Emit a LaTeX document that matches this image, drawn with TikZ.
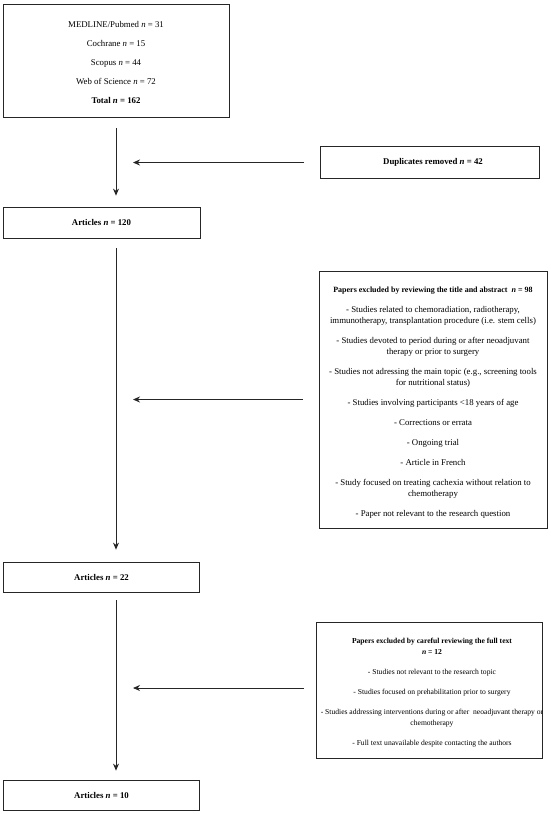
\documentclass[tikz,border=0pt]{standalone}
\usepackage{fontspec}
\setmainfont{Liberation Serif}
\usetikzlibrary{arrows.meta}
\begin{document}
\begin{tikzpicture}[x=1pt,y=-1pt,
  box/.style={draw=black!85, line width=0.8pt, inner sep=0pt},
  txt/.style={font=\fontsize{8.8}{11}\selectfont, align=center, inner sep=0pt},
  smalltxt/.style={font=\fontsize{7.6}{11}\selectfont, align=center, inner sep=0pt},
  boldtxt/.style={font=\fontsize{8.8}{11}\selectfont\bfseries, align=center, inner sep=0pt},
  arr/.style={draw=black!85, line width=0.8pt, -{Stealth[length=7pt,width=6pt]}}]
\useasboundingbox (0,0) rectangle (550,814);
\coordinate (spine) at (116,0);
% boxes
\node[box, minimum width=226pt, minimum height=113pt] (src) at (116,60.5) {};
\node[box, minimum width=197pt, minimum height=31pt] (a120) at (101.5,222.5) {};
\node[box, minimum width=196pt, minimum height=30pt] (a22) at (101.5,577) {};
\node[box, minimum width=196pt, minimum height=30pt] (a10) at (101.5,795) {};
\node[box, minimum width=219pt, minimum height=32pt] (dup) at (430,162.5) {};
\node[box, minimum width=228pt, minimum height=257pt] (ex1) at (433,399.5) {};
\node[box, minimum width=226pt, minimum height=136pt] (ex2) at (429,690) {};
% texts
\node[txt] (srct) at ([yshift=-2pt]src.center) {MEDLINE/Pubmed \textit{n} = 31\\[8pt]
Cochrane \textit{n} = 15\\[8pt]
Scopus \textit{n} = 44\\[8pt]
Web of Science \textit{n} = 72\\[8pt]
\textbf{Total \textit{n} = 162}};
\node[boldtxt] (a120t) at (a120.center) {Articles \textit{n} = 120};
\node[boldtxt] (a22t) at (a22.center) {Articles \textit{n} = 22};
\node[boldtxt] (a10t) at (a10.center) {Articles \textit{n} = 10};
\node[boldtxt] (dupt) at ([xshift=3pt]dup.center) {Duplicates removed \textit{n} = 42};
\node[txt] (ex1t) at ([yshift=-3pt]ex1.center) {{\fontsize{8}{11}\selectfont\textbf{Papers excluded by reviewing the title and abstract~ \textit{n} = 98}}\\[9pt]
- Studies related to chemoradiation, radiotherapy,\\
immunotherapy, transplantation procedure (i.e. stem cells)\\[9pt]
- Studies devoted to period during or after neoadjuvant\\
therapy or prior to surgery\\[9pt]
- Studies not adressing the main topic (e.g., screening tools\\
for nutritional status)\\[9pt]
- Studies involving participants <18 years of age\\[9pt]
- Corrections or errata\\[9pt]
- Ongoing trial\\[9pt]
- Article in French\\[9pt]
- Study focused on treating cachexia without relation to\\
chemotherapy\\[9pt]
- Paper not relevant to the research question};
\node[smalltxt] (ex2t) at ([xshift=3pt,yshift=-3pt]ex2.center) {\textbf{Papers excluded by careful reviewing the full text}\\
\textbf{\textit{n} = 12}\\[9pt]
- Studies not relevant to the research topic\\[9pt]
- Studies focused on prehabilitation prior to surgery\\[9pt]
- Studies addressing interventions during or after~ neoadjuvant therapy or\\
chemotherapy\\[9pt]
- Full text unavailable despite contacting the authors};
% connectors
\draw[arr, shorten <=11pt, shorten >=11pt] (spine |- src.south) -- (spine |- a120.north);
\draw[arr, shorten <=10pt, shorten >=12pt] (spine |- a120.south) -- (spine |- a22.north);
\draw[arr, shorten <=8pt, shorten >=9pt] (spine |- a22.south) -- (spine |- a10.north);
\draw[arr, shorten <=16pt, shorten >=17pt] (dup.west) -- (dup.west -| spine);
\draw[arr, shorten <=16pt, shorten >=17pt] (ex1.west) -- (ex1.west -| spine);
\draw[arr, shorten <=12pt, shorten >=17pt] ([yshift=2pt]ex2.west) -- ([yshift=2pt]ex2.west -| spine);
\end{tikzpicture}
\end{document}
